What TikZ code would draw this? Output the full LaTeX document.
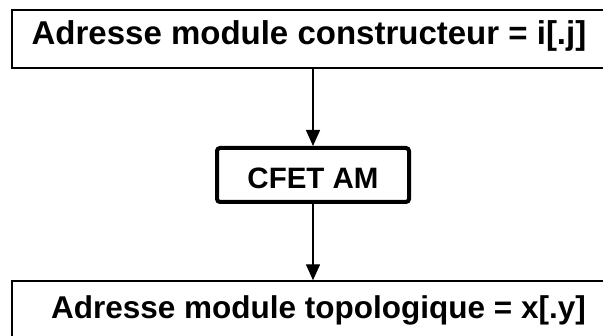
\documentclass[tikz,border=0pt]{standalone}
\usepackage{fontspec}
\setmainfont{Liberation Sans}
\usetikzlibrary{arrows.meta}
\begin{document}
\begin{tikzpicture}[x=1pt,y=1pt,
  addrbox/.style={draw=black, line width=1.4pt, fill=white, inner sep=0pt,
    font=\fontsize{33}{33}\selectfont\bfseries},
  blockbox/.style={draw=black, line width=4pt, rounded corners=3pt, fill=white,
    inner sep=0pt, minimum width=192, minimum height=54,
    text height=30, text depth=2,
    font=\fontsize{29.5}{29.5}\selectfont\bfseries},
  flow/.style={draw=black, line width=1.4pt,
    -{Triangle[length=16pt, width=14pt]}}]
  \useasboundingbox (0,0) rectangle (603,336);
  \fill[white] (0,0) rectangle (603,336);
  % upper address box (runs past the right edge)
  \node[addrbox, minimum width=594, minimum height=58,
        text height=18, text depth=6] (top) at (309,297)
        {Adresse module constructeur = i[.j]};
  % converter block
  \node[blockbox] (cfet) at (313,161) {CFET AM};
  % lower address box (runs past the right and bottom edges)
  \node[addrbox, minimum width=613, minimum height=58,
        text height=22, text depth=4,
        font=\fontsize{31.5}{31.5}\selectfont\bfseries] (bot) at (318.5,26)
        {Adresse module topologique = x[.y]};
  \draw[flow] (top.south -| cfet.north) -- (cfet.north);
  \draw[flow] (cfet.south) -- (bot.north -| cfet.south);
\end{tikzpicture}
\end{document}
